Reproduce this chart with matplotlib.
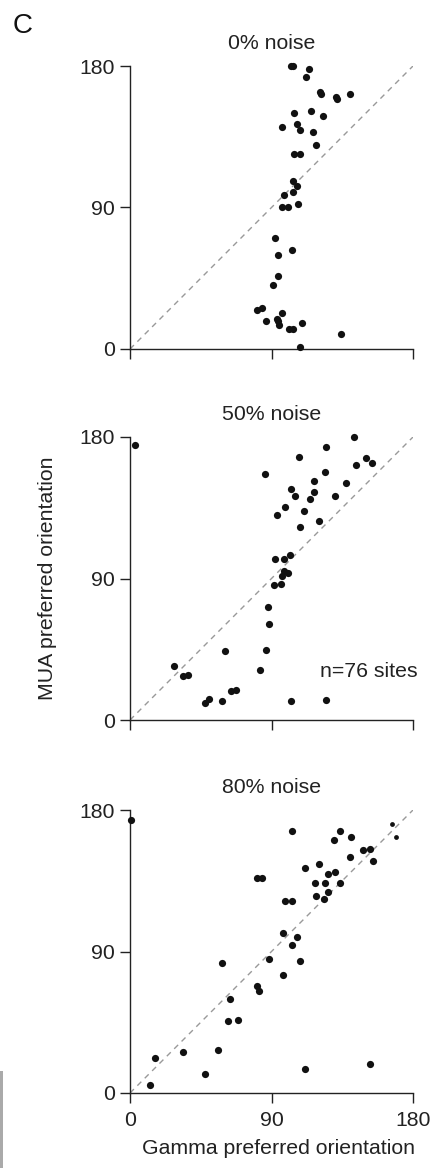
import matplotlib
matplotlib.use('Agg')
import matplotlib.pyplot as plt
from matplotlib.patches import Rectangle

plt.rcParams['font.family'] = ['Liberation Sans', 'DejaVu Sans']

# 📊 Dane: preferowana orientacja (gamma vs MUA) dla trzech poziomów szumu
tytuly = ['0% noise', '50% noise', '80% noise']

gamma_0 = [102.4, 103.4, 113.6, 112.0, 121.0, 121.5, 131.0, 131.5, 139.7, 104.3,
           115.3, 122.7, 96.7, 106.2, 108.1, 116.2, 118.5, 104.3, 108.3, 103.5,
           106.2, 98.2, 103.7, 96.9, 100.5, 106.8, 92.2, 103.0, 93.9, 93.9,
           91.2, 80.8, 83.8, 96.7, 86.5, 93.5, 93.9, 94.8, 101.1, 103.5,
           109.4, 134.0, 107.9]
mua_0 = [179.9, 179.9, 177.8, 173.2, 163.4, 162.5, 160.0, 158.7, 162.2, 149.8,
         151.4, 148.2, 141.4, 142.9, 139.5, 137.8, 129.5, 124.2, 124.2, 106.6,
         103.9, 97.7, 100.0, 90.3, 90.3, 92.4, 70.8, 63.2, 59.8, 46.4,
         40.7, 25.0, 26.3, 22.6, 17.6, 18.8, 18.0, 15.5, 12.9, 12.7,
         16.3, 9.3, 1.0]

gamma_50 = [3.0, 142.5, 124.9, 107.3, 85.9, 150.3, 153.9, 144.0, 124.0, 117.0,
            137.4, 102.4, 105.1, 117.0, 114.5, 130.6, 98.8, 93.5, 110.7, 120.2,
            108.3, 92.4, 98.2, 101.8, 98.2, 100.7, 96.7, 91.6, 95.8, 87.6,
            88.2, 60.4, 86.3, 28.0, 33.5, 36.9, 82.5, 47.5, 50.2, 58.5,
            64.0, 67.2, 102.2, 124.9]
mua_50 = [174.9, 179.8, 173.8, 167.5, 156.3, 166.6, 163.4, 162.4, 157.9, 152.2,
          150.7, 146.7, 142.5, 145.2, 140.7, 142.5, 135.3, 130.4, 133.1, 126.4,
          122.9, 102.4, 102.2, 104.7, 94.8, 93.3, 91.4, 86.1, 86.5, 71.9,
          60.9, 43.7, 44.5, 34.2, 28.2, 28.4, 32.0, 10.6, 13.2, 12.1,
          18.3, 18.9, 12.1, 12.7]

gamma_80 = [0.6, 102.8, 133.6, 129.6, 140.6, 148.0, 152.8, 140.1, 154.5, 111.1,
            120.4, 126.1, 130.4, 81.0, 84.2, 117.7, 124.0, 133.4, 125.7, 118.1,
            123.6, 98.8, 102.8, 97.3, 106.4, 102.8, 88.2, 108.3, 58.7, 97.5,
            81.0, 82.2, 63.8, 62.1, 68.5, 33.7, 15.9, 55.8, 47.5, 12.9,
            111.1, 152.7]
mua_80 = [173.8, 166.8, 166.8, 160.7, 163.0, 154.4, 155.0, 150.3, 147.4, 143.1,
          145.5, 139.5, 140.4, 136.5, 136.5, 133.6, 133.4, 133.6, 127.8, 125.1,
          123.4, 122.3, 122.3, 101.8, 99.2, 94.3, 85.0, 84.1, 82.5, 75.0,
          68.0, 65.0, 59.7, 45.8, 46.2, 25.9, 22.3, 27.5, 12.1, 5.3,
          15.5, 18.3]
# dwa mniejsze punkty w panelu 80%
gamma_80_male = [166.4, 169.4]
mua_80_male = [170.9, 162.6]

ticki = [0, 90, 180]
dane = [(gamma_0, mua_0), (gamma_50, mua_50), (gamma_80, mua_80)]

FS = 15.3
KOLOR_TEKSTU = '#222222'

# 🖼️ Rysunek
fig = plt.figure(figsize=(4.33, 11.68), dpi=100)
W, H = 433.0, 1168.0
lewa = 130 / W
szer = 283 / W
wys = 283 / H
dolne = [349, 720, 1093]  # piksel osi x każdego panelu

osie = []
for i, (gx, my) in enumerate(dane):
    ax = fig.add_axes([lewa, 1 - dolne[i] / H, szer, wys])
    osie.append(ax)
    ax.plot([0, 180], [0, 180], color='#999999', lw=1.0, ls=(0, (4, 3.5)), zorder=1)
    ax.scatter(gx, my, s=27, color='#111111', linewidths=0, zorder=3, clip_on=False)
    ax.set_xlim(0, 180)
    ax.set_ylim(0, 180)
    ax.set_xticks(ticki)
    ax.set_yticks(ticki)
    if i < 2:
        ax.set_xticklabels([])
    for s in ['top', 'right']:
        ax.spines[s].set_visible(False)
    for s in ['left', 'bottom']:
        ax.spines[s].set_linewidth(1.0)
        ax.spines[s].set_color(KOLOR_TEKSTU)
    ax.tick_params(direction='out', length=7, width=1.0, color=KOLOR_TEKSTU,
                   labelsize=FS, labelcolor=KOLOR_TEKSTU, pad=4)
    ax.tick_params(axis='x', pad=6)
    ax.set_title(tytuly[i], fontsize=FS, color=KOLOR_TEKSTU, pad=12)

osie[2].scatter(gamma_80_male, mua_80_male, s=12, color='#111111', linewidths=0,
                zorder=3, clip_on=False)

osie[1].text(1.018, 0.17, 'n=76 sites', transform=osie[1].transAxes,
             ha='right', va='center', fontsize=FS, color=KOLOR_TEKSTU)
osie[1].set_ylabel('MUA preferred orientation', fontsize=FS, color=KOLOR_TEKSTU,
                   labelpad=16)
osie[2].set_xlabel('Gamma preferred orientation', fontsize=FS, color=KOLOR_TEKSTU)
osie[2].xaxis.set_label_coords(0.525, -0.163)

fig.text(13 / W, 1 - 33 / H, 'C', fontsize=20, color='#111111', ha='left', va='baseline')

# szary pasek przy lewej krawędzi (ślad po przycięciu)
fig.add_artist(Rectangle((0, 0), 3 / W, 97 / H, transform=fig.transFigure,
                         color='#aaaaaa', lw=0))

plt.savefig('out.png', dpi=100)
plt.close()
